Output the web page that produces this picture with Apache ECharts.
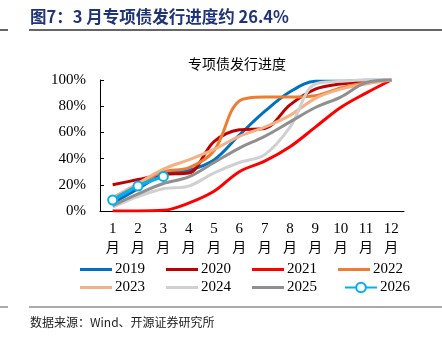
<!DOCTYPE html>
<html>
<head>
<meta charset="utf-8">
<script src="https://cdn.jsdelivr.net/npm/echarts@6/dist/echarts.min.js"></script>
<style>
  html, body { margin: 0; padding: 0; background: #fff; }
  #chart { width: 442px; height: 338px; }
</style>
</head>
<body>
<div id="chart"></div>
<script>
// Months on the x axis
const months = ['1', '2', '3', '4', '5', '6', '7', '8', '9', '10', '11', '12'];
const yTicks = [0, 20, 40, 60, 80, 100];

// Cumulative special-bond issuance progress (%), by month
const s2019 = [6, 17, 28, 31, 39, 58, 76, 91, 99, 99, 100, 100];
const s2020 = [20, 24, 28, 29, 53, 62, 63, 81, 93, 97, 99, 100];
const s2021 = [0, 0, 0.5, 6, 15, 30, 38, 49, 64, 79, 90, 100];
const s2022 = [10, 20, 30, 33, 46, 84, 87, 87, 88, 94, 98, 100];
const s2023 = [10, 21, 32, 39, 47, 57, 64, 73, 86, 93, 97, 100];
const s2024 = [3, 11, 17, 19, 29, 37, 43, 64, 97, 99, 100, 100];
const s2025 = [4, 13, 21, 26, 37, 48, 57, 68, 79, 87, 98, 100];
const s2026 = [8.4, 19, 26.4];

const years = ['2019', '2020', '2021', '2022', '2023', '2024', '2025', '2026'];
const values = [s2019, s2020, s2021, s2022, s2023, s2024, s2025, s2026];
const colors = ['#0070C0', '#C00000', '#FF0000', '#ED7D31', '#F4B183', '#D0D0D0', '#909090', '#00B0F0'];

const serif = '"Liberation Serif", "Times New Roman", serif';
const cjk = '"Noto Sans CJK SC", sans-serif';

const series = years.map((y, i) => {
  const isMarked = y === '2026';
  return {
    name: y,
    type: 'line',
    data: values[i],
    smooth: 0.35,
    showSymbol: isMarked,
    symbol: isMarked ? 'circle' : 'none',
    symbolSize: 9,
    itemStyle: isMarked ? { color: '#fff', borderColor: colors[i], borderWidth: 2 } : { color: colors[i] },
    lineStyle: { color: colors[i], width: isMarked ? 3.5 : 3 },
    z: isMarked ? 10 : 2 + i,
    animation: false
  };
});

// Legend: plain line swatches for the full years, line + marker for 2026
const legendBase = {
  orient: 'horizontal',
  itemWidth: 32,
  itemGap: 21,
  textStyle: { fontFamily: serif, fontSize: 15, color: '#000', padding: [0, 0, 0, -2] }
};
const legendRows = [
  Object.assign({}, legendBase, { left: 75, top: 257, icon: 'rect', itemHeight: 3, data: years.slice(0, 4) }),
  Object.assign({}, legendBase, { left: 75, top: 275, icon: 'rect', itemHeight: 3, data: years.slice(4, 7) }),
  Object.assign({}, legendBase, { left: 339, top: 275, itemHeight: 12, data: years.slice(7) })
];

const chart = echarts.init(document.getElementById('chart'), null, { renderer: 'canvas' });
chart.setOption({
  backgroundColor: '#fff',
  animation: false,
  color: colors,
  title: {
    text: '专项债发行进度',
    left: 232,
    textAlign: 'center',
    top: 52,
    textStyle: { fontFamily: cjk, fontSize: 14, fontWeight: 'normal', color: '#000' }
  },
  grid: { left: 100, right: 38, top: 80, bottom: 127, containLabel: false },
  xAxis: {
    type: 'category',
    data: months,
    boundaryGap: true,
    axisLine: { lineStyle: { color: '#000', width: 1 } },
    axisTick: { inside: true, length: 4, lineStyle: { color: '#000' } },
    axisLabel: {
      margin: 9,
      interval: 0,
      formatter: v => '{n|' + v + '}\n{m|月}',
      rich: {
        n: { fontFamily: serif, fontSize: 15, color: '#000', lineHeight: 18 },
        m: { fontFamily: cjk, fontSize: 14, color: '#000', lineHeight: 18 }
      }
    },
    splitLine: { show: false }
  },
  yAxis: {
    type: 'value',
    min: yTicks[0],
    max: yTicks[yTicks.length - 1],
    interval: 20,
    axisLine: { show: true, lineStyle: { color: '#000', width: 1 } },
    axisTick: { show: true, inside: true, length: 4, lineStyle: { color: '#000' } },
    axisLabel: { formatter: '{value}%', fontFamily: serif, fontSize: 15, color: '#000', margin: 14 },
    splitLine: { show: false }
  },
  legend: legendRows,
  series: series,
  graphic: [
    {
      type: 'text', left: 30, top: 8,
      style: { text: '图7：3 月专项债发行进度约 26.4%', fontFamily: cjk, fontSize: 16.5, fontWeight: 'bold', fill: '#1F3478' }
    },
    { type: 'line', shape: { x1: 29, y1: 30, x2: 442, y2: 30 }, style: { stroke: '#333', lineWidth: 1.5 } },
    { type: 'line', shape: { x1: 0, y1: 30, x2: 8, y2: 30 }, style: { stroke: '#333', lineWidth: 1.5 } },
    { type: 'line', shape: { x1: 29, y1: 307, x2: 442, y2: 307 }, style: { stroke: '#555', lineWidth: 1 } },
    { type: 'line', shape: { x1: 0, y1: 307, x2: 8, y2: 307 }, style: { stroke: '#555', lineWidth: 1 } },
    {
      type: 'text', left: 30, top: 316,
      style: { text: '数据来源：Wind、开源证券研究所', fontFamily: cjk, fontSize: 12, fill: '#222' }
    }
  ]
});
</script>
</body>
</html>
